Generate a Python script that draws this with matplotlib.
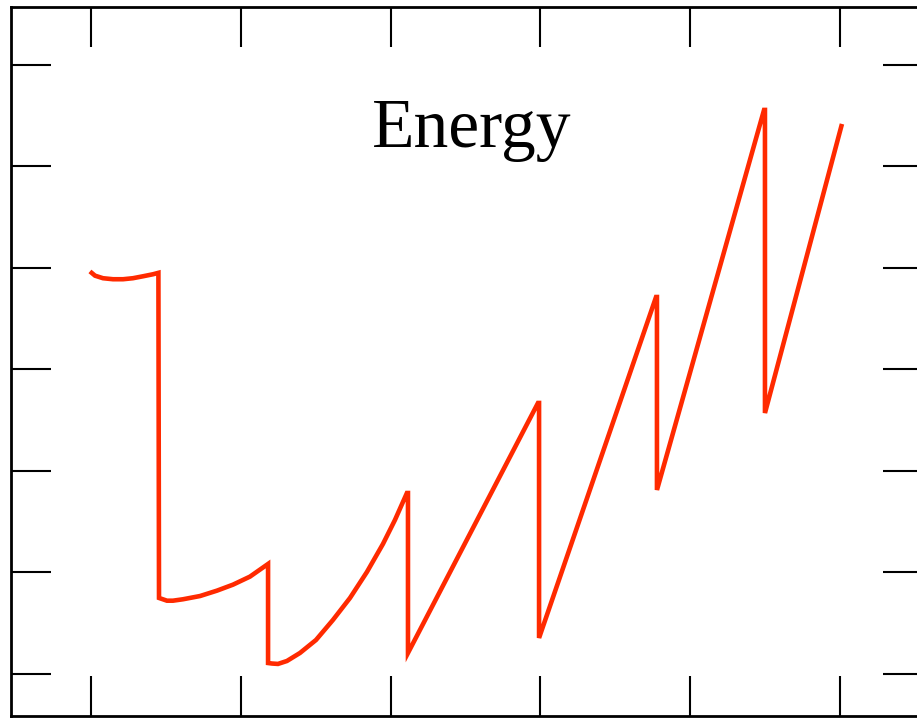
import matplotlib
matplotlib.use("Agg")
import matplotlib.pyplot as plt
import numpy as np

# Energy curve segments (x in tick units, y in tick units)
seg_x = [
    [-0.007, 0.027, 0.080, 0.147, 0.214, 0.280, 0.347, 0.414, 0.450],
    [0.450, 0.454, 0.507, 0.547, 0.614, 0.728, 0.841, 0.948, 1.061, 1.182],
    [1.182, 1.208, 1.248, 1.308, 1.395, 1.502, 1.615, 1.729, 1.842, 1.949, 2.029,
     2.109],
    [2.116, 2.116, 2.984],
    [2.991, 2.991, 3.772],
    [3.778, 3.778, 4.493],
    [4.499, 4.499, 5.013],
]
seg_y = [
    [3.966, 3.924, 3.899, 3.889, 3.889, 3.899, 3.918, 3.938, 3.952],
    [3.952, 0.749, 0.722, 0.722, 0.736, 0.768, 0.821, 0.880, 0.959, 1.084],
    [0.108, 0.103, 0.099, 0.128, 0.207, 0.335, 0.532, 0.749, 1.005, 1.281, 1.517,
     1.783],
    [1.783, 0.207, 2.670],
    [2.670, 0.355, 3.714],
    [3.714, 1.813, 5.557],
    [5.557, 2.571, 5.419],
]
x_ticks = [0, 1, 2, 3, 4, 5]
y_ticks = [0, 1, 2, 3, 4, 5, 6]
title = "Energy"

xs = np.concatenate([np.array(s) for s in seg_x])
ys = np.concatenate([np.array(s) for s in seg_y])

W, H = 917, 718
fig = plt.figure(figsize=(W / 100, H / 100), dpi=100)
ax = fig.add_axes([11 / W, 2 / H, (923 - 11) / W, (716 - 7) / H])
ax.plot(xs, ys, color="#ff2a00", lw=3.3, solid_joinstyle="miter", solid_capstyle="butt")
ax.set_xlim(-0.534, 5.554)
ax.set_ylim(-0.414, 6.571)
ax.set_xticks(x_ticks)
ax.set_yticks(y_ticks)
ax.tick_params(which="both", direction="in", length=29, width=1.5, top=True, right=True,
               labelbottom=False, labelleft=False)
for s in ax.spines.values():
    s.set_linewidth(2)
fig.text(472 / W, 1 - 147 / H, title, ha="center", va="baseline",
         fontsize=50, family="Liberation Serif")
fig.savefig("out.png", dpi=100)
